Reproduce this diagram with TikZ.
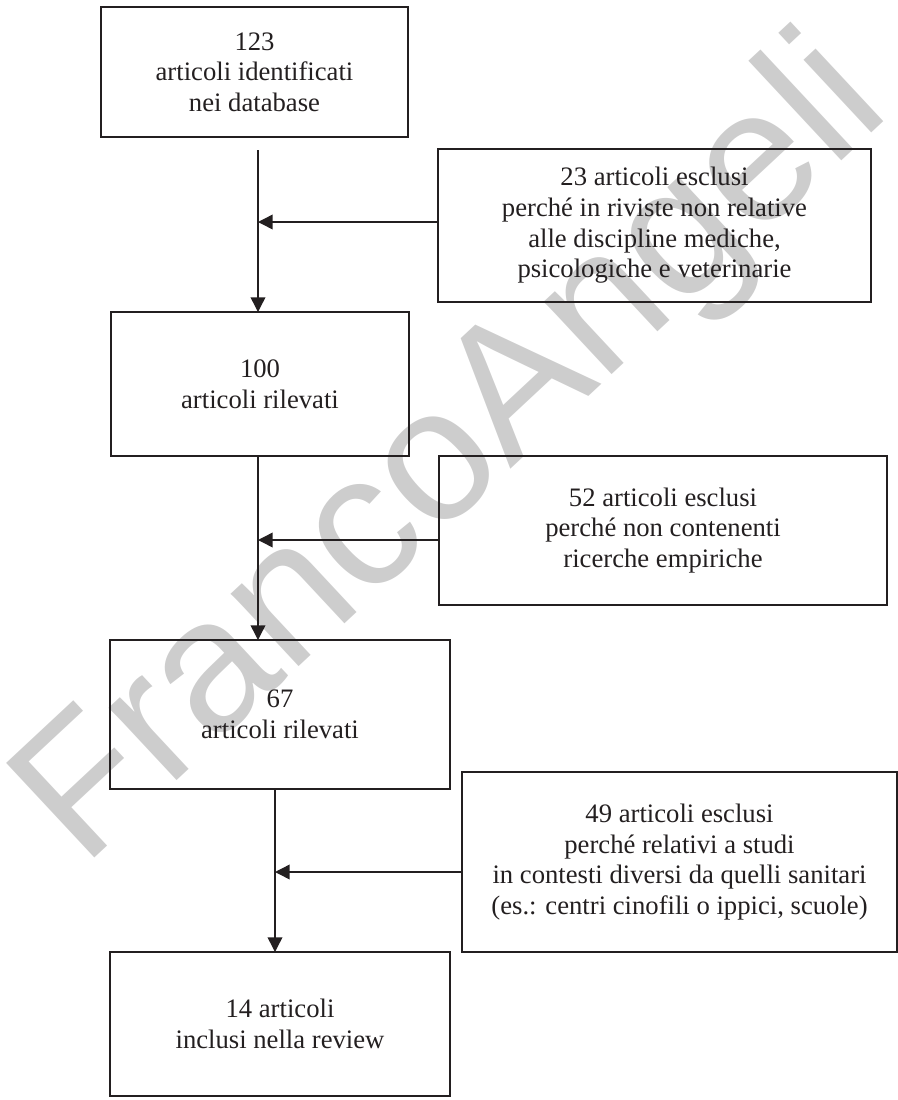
\documentclass[tikz,border=0pt]{standalone}
\usepackage{fontspec}
\setmainfont{Liberation Serif}
\newfontfamily\wmfont{Liberation Sans}
\usetikzlibrary{arrows.meta}
\definecolor{ink}{RGB}{35,31,32}
\definecolor{wmgray}{RGB}{205,205,205}
\begin{document}
\begin{tikzpicture}[x=0.75pt,y=-0.75pt,
  box/.style={draw=ink, line width=1.3pt, inner sep=0pt, outer sep=0pt,
    align=center, text=ink, font=\fontsize{20}{23}\selectfont},
  conn/.style={draw=ink, line width=1.1pt, -{Triangle[length=11pt,width=11pt]}},
  wmtext/.style={text=wmgray, font=\wmfont\fontsize{141}{141}\selectfont, rotate=43, inner sep=0pt}
]
\useasboundingbox (0,0) rectangle (898,1100);
\node[wmtext] (wm) at (455,455) {FrancoAngeli};

\node[box, minimum width=230.25pt, minimum height=97.5pt] (b1) at (254.5,72)
  {123\\articoli identificati\\nei database};
\node[box, minimum width=324.75pt, minimum height=114.75pt] (ea) at (654.5,225.5)
  {23 articoli esclusi\\perché in riviste non relative\\alle discipline mediche,\\psicologiche e veterinarie};
\node[box, minimum width=223.5pt, minimum height=108pt] (b2) at (260,384)
  {100\\articoli rilevati};
\node[box, minimum width=336pt, minimum height=111.75pt] (eb) at (663,530.5)
  {52 articoli esclusi\\perché non contenenti\\ricerche empiriche};
\node[box, minimum width=255pt, minimum height=111.75pt] (b3) at (280,714.5)
  {67\\articoli rilevati};
\node[box, minimum width=326.25pt, minimum height=135pt] (ec) at (679.5,862)
  {49 articoli esclusi\\perché relativi a studi\\in contesti diversi da quelli sanitari\\(es.: centri cinofili o ippici, scuole)};
\node[box, minimum width=255pt, minimum height=108pt] (b4) at (280,1024)
  {14 articoli\\inclusi nella review};

\coordinate (s1) at (258,150);
\coordinate (ja) at (258,222);
\coordinate (s2) at (258,456);
\coordinate (jb) at (258,540);
\coordinate (s3) at (275,789);
\coordinate (jc) at (275,872);

\draw[conn] (s1) -- (s1 |- b2.north);
\draw[conn] (ea.west |- ja) -- (ja);
\draw[conn] (s2) -- (s2 |- b3.north);
\draw[conn] (eb.west |- jb) -- (jb);
\draw[conn] (s3) -- (s3 |- b4.north);
\draw[conn] (ec.west |- jc) -- (jc);
\end{tikzpicture}
\end{document}
